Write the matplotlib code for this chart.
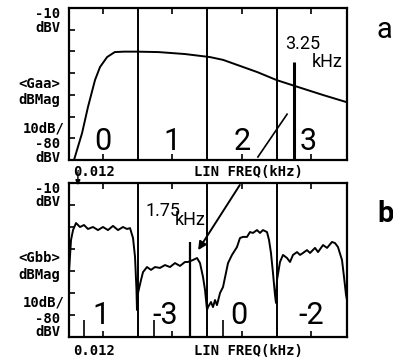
import matplotlib.pyplot as plt

plt.ioff()

# panel a: <Gaa> spectrum (kHz, dBV)
freq_a = [0.084, 0.2, 0.285, 0.386, 0.458, 0.56, 0.67, 0.8, 0.99, 1.3, 1.68,
          2.04, 2.23, 2.72, 3.0, 3.26, 3.67, 4.0]
gaa_db = [-80, -67.6, -55.6, -43.2, -37.2, -32.6, -30.3, -30.1, -30.1, -30.3,
          -31.2, -32.6, -33.9, -39.5, -43.2, -45.9, -50.1, -53.3]
tone_a = 3.25
tone_a_db = -34.9

# panel b: <Gbb> spectrum
freq_b = [0.012, 0.041, 0.070, 0.113, 0.170, 0.228, 0.285, 0.357, 0.429, 0.501,
          0.573, 0.645, 0.717, 0.789, 0.846, 0.890, 0.933, 0.962, 0.983, 0.990,
          1.005, 1.048, 1.077, 1.134, 1.192, 1.249, 1.321, 1.393, 1.465, 1.537,
          1.609, 1.681, 1.724, 1.796, 1.854, 1.897, 1.940, 1.969, 1.998, 2.012,
          2.055, 2.084, 2.113, 2.141, 2.185, 2.228, 2.300, 2.357, 2.429, 2.472,
          2.516, 2.573, 2.616, 2.659, 2.717, 2.760, 2.803, 2.861, 2.890, 2.918,
          2.947, 2.976, 2.990, 3.005, 3.048, 3.091, 3.149, 3.192, 3.235, 3.293,
          3.336, 3.379, 3.436, 3.480, 3.552, 3.595, 3.667, 3.725, 3.796, 3.839,
          3.882, 3.940, 3.969, 3.998, 4.012]
gbb_db = [-50.5, -35.9, -31.4, -28.2, -30.0, -29.1, -30.9, -30.0, -31.4, -30.0,
          -31.4, -29.5, -31.4, -30.0, -30.9, -30.5, -35.0, -43.6, -58.6, -67.7,
          -60.0, -54.1, -50.5, -48.2, -49.5, -48.2, -48.6, -47.3, -48.2, -46.4,
          -47.7, -45.9, -45.9, -45.0, -44.1, -46.4, -52.7, -58.6, -67.7, -66.4,
          -64.1, -66.4, -63.2, -65.5, -60.0, -57.3, -46.4, -42.7, -39.1, -35.0,
          -34.5, -34.5, -32.3, -32.7, -31.4, -32.7, -31.4, -32.3, -35.9, -41.8,
          -50.9, -60.9, -64.5, -54.1, -45.9, -42.7, -44.1, -45.9, -42.7, -41.4,
          -42.7, -41.8, -40.5, -41.8, -39.5, -41.4, -38.2, -39.5, -36.8, -37.3,
          -39.1, -45.0, -52.7, -60.9, -63.2]
tone_b = 1.75
tone_b_db = -36.8
small_tones = [0.228, 1.235, 2.228]
small_db = -72.3

labels_a = ['0', '1', '2', '3']
labels_b = ['1', '-3', '0', '-2']
label_x_a = [0.5, 1.5, 2.5, 3.45]
label_x_b = [0.47, 1.4, 2.45, 3.5]

x_lo, x_hi = 0.012, 4.012
y_lo, y_hi = -80, -10

W, H = 393, 363
fig = plt.figure(figsize=(W / 100, H / 100), dpi=100)

mono = dict(family='DejaVu Sans Mono', fontsize=10, fontweight='bold')
thin = dict(family='Roboto', fontweight='normal')


def setup(ax):
    ax.set_xlim(x_lo, x_hi)
    ax.set_ylim(y_lo, y_hi)
    for s in ax.spines.values():
        s.set_linewidth(1.6)
    ax.set_xticks([0.5, 1.5, 2.5, 3.5])
    ax.set_yticks(range(-70, -10, 10))
    ax.tick_params(axis='x', direction='in', top=True, bottom=True, length=4,
                   width=1.2, labelbottom=False)
    ax.tick_params(axis='y', direction='in', left=True, right=False, length=4,
                   width=1.2, labelleft=False)
    for f in (1, 2, 3):
        ax.axvline(f, color='black', lw=1.4)


def ylabels(top_px, name):
    offs = [6, 19.5, 75.5, 92, 120, 136, 149.5]
    txts = ['-10', 'dBV', name, 'dBMag', '10dB/', '-80', 'dBV']
    for o, t in zip(offs, txts):
        xr = 65 if t == '10dB/' else 60
        fig.text(xr / W, 1 - (top_px + o) / H, t, ha='right', va='center', **mono)


def xlabels(y_px):
    fig.text(94 / W, 1 - y_px / H, '0.012', ha='center', va='center', **mono)
    fig.text(248 / W, 1 - y_px / H, 'LIN FREQ(kHz)', ha='center', va='center', **mono)


# panel a
ax1 = fig.add_axes([69 / W, 1 - 160 / H, 278 / W, 152 / H])
setup(ax1)
ax1.plot(freq_a, gaa_db, color='black', lw=1.4)
ax1.vlines(tone_a, y_lo, tone_a_db, color='black', lw=2.2)
ax1.plot([2.73, 3.15], [-78.6, -58.9], color='black', lw=1.2)
for x, t in zip(label_x_a, labels_a):
    ax1.text(x, -71.5, t, ha='center', va='center', fontsize=22, **thin)
ax1.text(3.38, -26.6, '3.25', ha='center', va='center', fontsize=13, **thin)
ax1.text(3.72, -34.9, 'kHz', ha='center', va='center', fontsize=13, **thin)
ylabels(8, '<Gaa>')
xlabels(172)
fig.text(384 / W, 1 - 30 / H, 'a', ha='center', va='center', fontsize=21, **thin)

# panel b
ax2 = fig.add_axes([69 / W, 1 - 337 / H, 278 / W, 154 / H])
setup(ax2)
ax2.plot(freq_b, gbb_db, color='black', lw=1.4)
ax2.vlines(tone_b, y_lo, tone_b_db, color='black', lw=1.6)
ax2.vlines(small_tones, y_lo, small_db, color='black', lw=1.2)
for x, t in zip(label_x_b, labels_b):
    ax2.text(x, -70, t, ha='center', va='center', fontsize=22, **thin)
ax2.text(1.37, -22.5, '1.75', ha='center', va='center', fontsize=13, **thin)
ax2.text(1.76, -27, 'kHz', ha='center', va='center', fontsize=13, **thin)
ax2.annotate('', xy=(1.87, -40.5), xytext=(2.47, -10.9),
             arrowprops=dict(arrowstyle='-|>', color='black', lw=1.4,
                             mutation_scale=12, shrinkA=0, shrinkB=0))
ax2.annotate('', xy=(0.14, -11), xytext=(0.14, -5),
             arrowprops=dict(arrowstyle='-|>', color='black', lw=1.0,
                             mutation_scale=7, shrinkA=0, shrinkB=0),
             annotation_clip=False)
ylabels(183, '<Gbb>')
xlabels(351)
fig.text(386 / W, 1 - 214 / H, 'b', ha='center', va='center', fontsize=21,
         family='Roboto', fontweight='bold')

fig.savefig('out.png', dpi=100)
